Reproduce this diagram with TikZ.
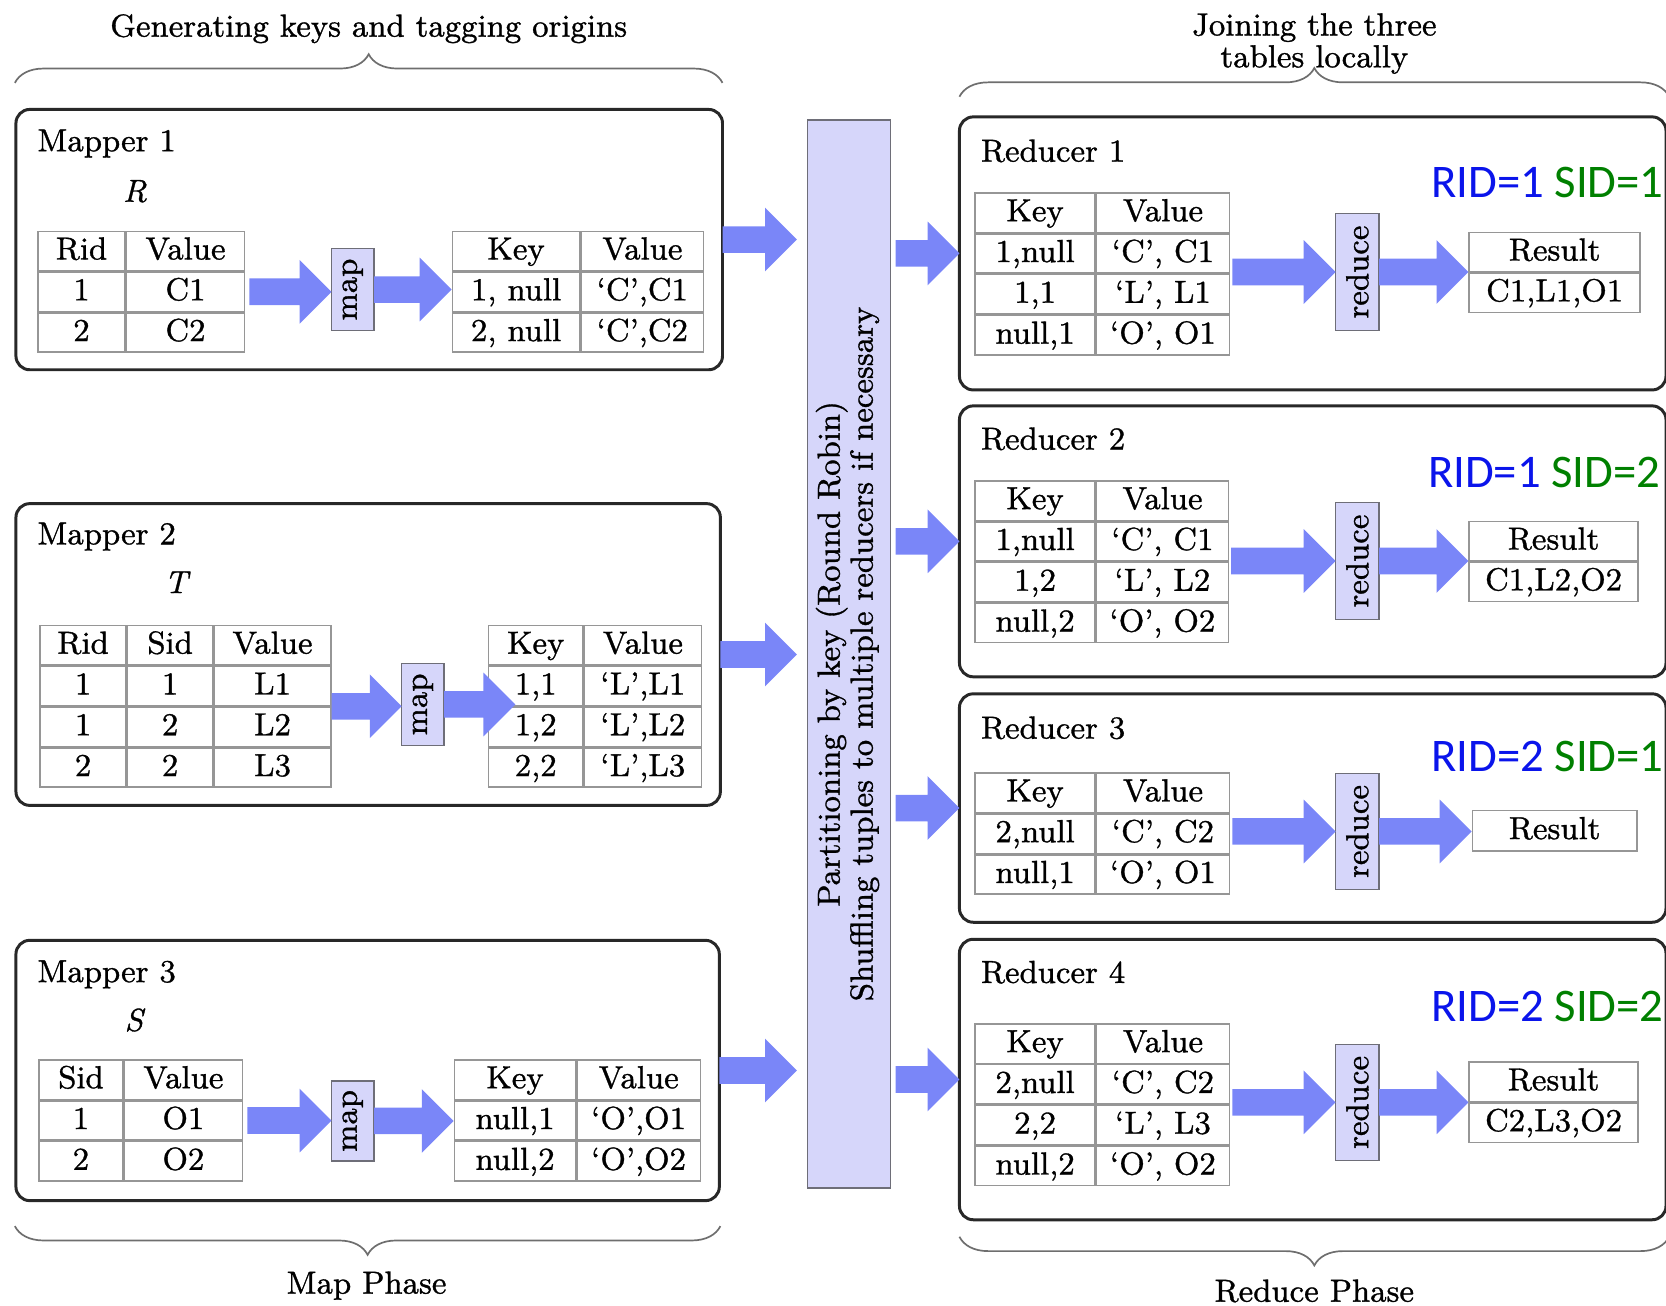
\documentclass[tikz,border=0pt]{standalone}
\usepackage{fontspec}
\setmainfont{lmroman9-regular.otf}[ItalicFont=lmroman9-italic.otf, FakeBold=1.0, Ligatures=TeX]
\newfontfamily\labelsans{Carlito}
\usetikzlibrary{matrix,calc,decorations.pathreplacing}

\definecolor{arrowfill}{RGB}{122,134,248}
\definecolor{opfill}{RGB}{214,214,250}
\definecolor{opline}{RGB}{110,110,120}
\definecolor{cellline}{RGB}{150,150,150}
\definecolor{stageline}{RGB}{40,40,40}
\definecolor{ridblue}{RGB}{10,20,235}
\definecolor{sidgreen}{RGB}{0,128,0}
\definecolor{braceline}{RGB}{110,110,110}

% fat horizontal arrow; its height is taken from the first point
\newcommand\fatarrow[2]{%
  \fill[arrowfill] let \p1=(#1), \p2=(#2) in
    (\x1,\y1+12.5pt) -- (\x2-30pt,\y1+12.5pt) -- (\x2-30pt,\y1+30pt) --
    (\x2,\y1) -- (\x2-30pt,\y1-30pt) -- (\x2-30pt,\y1-12.5pt) --
    (\x1,\y1-12.5pt) -- cycle;}

\tikzset{
  tbl/.style={matrix of nodes, anchor=north west, inner sep=0pt, outer sep=0pt,
    row sep=0pt, column sep=0pt,
    nodes={draw=cellline, line width=1.4pt, fill=white, minimum height=37pt,
      inner sep=0pt, outer sep=0pt, text height=23pt, text depth=7pt, anchor=center}},
  tblone/.style={tbl, column 1/.style={nodes={minimum width=#1}}},
  tbltwo/.style 2 args={tbl, column 1/.style={nodes={minimum width=#1}},
    column 2/.style={nodes={minimum width=#2}}},
  tblthree/.style n args={3}{tbl, column 1/.style={nodes={minimum width=#1}},
    column 2/.style={nodes={minimum width=#2}}, column 3/.style={nodes={minimum width=#3}}},
  stagebox/.style={draw=stageline, line width=2.8pt, rounded corners=13pt,
    inner sep=0pt, outer sep=0pt},
  opbox/.style={draw=opline, fill=opfill, line width=1.4pt, inner sep=0pt, outer sep=0pt},
  title/.style={anchor=west, inner sep=0pt},
  bracepath/.style={draw=braceline, line width=1.6pt, decorate,
    decoration={brace, amplitude=27pt}},
  rid/.style={anchor=east, inner sep=0pt, font=\labelsans\fontsize{44}{48}\selectfont},
}

\begin{document}
\begin{tikzpicture}[x=1pt, y=-1pt, font=\fontsize{30}{34}\selectfont]
\useasboundingbox (0,0) rectangle (1568,1229);

% ---------------- phase captions and braces ----------------
\node (capmap) at (347,27) {Generating keys and tagging origins};
\node[align=center, font=\fontsize{30}{30}\selectfont] (capjoin) at (1237,41) {Joining the three\\tables locally};
\draw[bracepath] (14,78) -- (680,78);
\draw[bracepath] (903,91) -- (1571,91);
\draw[bracepath] (678,1154) -- (14,1154);
\draw[bracepath] (1571,1164) -- (903,1164);
\node (mapphase) at (345,1210) {Map Phase};
\node (redphase) at (1237,1215) {Reduce Phase};

% ---------------- mappers ----------------
\node[stagebox, minimum width=665pt, minimum height=245pt] (m1) at (347.5,225.5) {};
\node[stagebox, minimum width=663pt, minimum height=284pt] (m2) at (346.5,616) {};
\node[stagebox, minimum width=662pt, minimum height=245pt] (m3) at (346,1007.5) {};

\node[title] (m1name) at (35,135) {Mapper 1};
\node[title] (m2name) at (35,505) {Mapper 2};
\node[title] (m3name) at (35,917) {Mapper 3};
\node (m1rel) at (127,180) {\textit{R}};
\node (m2rel) at (167,548) {\textit{T}};
\node (m3rel) at (127,960) {\textit{S}};

% Mapper 1
\matrix (t1) [tbltwo={82pt}{111pt}] at (35,217) {
  Rid & Value \\ 1 & C1 \\ 2 & C2 \\};
\node[opbox, minimum width=40pt, minimum height=77pt] (map1) at (332,272.5) {\rotatebox{90}{map}};
\matrix (k1) [tbltwo={120pt}{115pt}] at (425,217) {
  Key & Value \\ 1, null & `C',C1 \\ 2, null & `C',C2 \\};

% Mapper 2
\matrix (t2) [tblthree={81pt}{80pt}{110pt}] at (37,588) {
  Rid & Sid & Value \\ 1 & 1 & L1 \\ 1 & 2 & L2 \\ 2 & 2 & L3 \\};
\node[opbox, minimum width=40pt, minimum height=77pt] (map2) at (398,663) {\rotatebox{90}{map}};
\matrix (k2) [tbltwo={89pt}{110pt}] at (459,588) {
  Key & Value \\ 1,1 & `L',L1 \\ 1,2 & `L',L2 \\ 2,2 & `L',L3 \\};

% Mapper 3
\matrix (t3) [tbltwo={79pt}{111pt}] at (36,997) {
  Sid & Value \\ 1 & O1 \\ 2 & O2 \\};
\node[opbox, minimum width=40pt, minimum height=75pt] (map3) at (332,1055) {\rotatebox{90}{map}};
\matrix (k3) [tbltwo={114pt}{116pt}] at (427,997) {
  Key & Value \\ null,1 & `O',O1 \\ null,2 & `O',O2 \\};

\fatarrow{[xshift=4pt]t1.east}{map1.west}
\fatarrow{map1.east}{k1.west}
\fatarrow{t2.east}{map2.west}
\fatarrow{map2.east}{[xshift=26pt]k2.west}
\fatarrow{[xshift=4pt]t3.east}{map3.west}
\fatarrow{map3.east}{k3.west}

% ---------------- shuffle stage ----------------
\node[opbox, minimum width=78pt, minimum height=1005pt] (part) at (799,615.5)
  {\rotatebox{90}{\begin{tabular}{@{}c@{}}Partitioning by key (Round Robin)\\[-3pt]
   Shuffling tuples to multiple reducers if necessary\end{tabular}}};

\fatarrow{m1.east}{[xshift=-10pt]part.west}
\fatarrow{m2.east}{[xshift=-10pt]part.west}
\fatarrow{m3.east}{[xshift=-10pt]part.west}

% ---------------- reducers ----------------
\node[stagebox, minimum width=665pt, minimum height=257pt] (R1) at (1235.5,238.5) {};
\node[stagebox, minimum width=665pt, minimum height=255pt] (R2) at (1235.5,509.5) {};
\node[stagebox, minimum width=665pt, minimum height=215pt] (R3) at (1235.5,760.5) {};
\node[stagebox, minimum width=665pt, minimum height=264pt] (R4) at (1235.5,1016) {};

\node[title] (R1name) at (923,142) {Reducer 1};
\node[title] (R2name) at (923,413) {Reducer 2};
\node[title] (R3name) at (923,685) {Reducer 3};
\node[title] (R4name) at (923,915) {Reducer 4};

\node[rid] (R1ids) at (1566,172) {\textcolor{ridblue}{RID=1} \textcolor{sidgreen}{SID=1}};
\node[rid] (R2ids) at (1563,445) {\textcolor{ridblue}{RID=1} \textcolor{sidgreen}{SID=2}};
\node[rid] (R3ids) at (1566,712) {\textcolor{ridblue}{RID=2} \textcolor{sidgreen}{SID=1}};
\node[rid] (R4ids) at (1566,947) {\textcolor{ridblue}{RID=2} \textcolor{sidgreen}{SID=2}};

\matrix (r1) [tbltwo={113pt}{125pt}] at (917,181) {
  Key & Value \\ 1,null & `C', C1 \\ 1,1 & `L', L1 \\ null,1 & `O', O1 \\};
\matrix (r2) [tbltwo={113pt}{124pt}] at (917,452) {
  Key & Value \\ 1,null & `C', C1 \\ 1,2 & `L', L2 \\ null,2 & `O', O2 \\};
\matrix (r3) [tbltwo={113pt}{125pt}] at (917,727) {
  Key & Value \\ 2,null & `C', C2 \\ null,1 & `O', O1 \\};
\matrix (r4) [tbltwo={113pt}{125pt}] at (917,963) {
  Key & Value \\ 2,null & `C', C2 \\ 2,2 & `L', L3 \\ null,2 & `O', O2 \\};

\node[opbox, minimum width=41pt, minimum height=110pt] (red1) at (1277.5,256) {\rotatebox{90}{reduce}};
\node[opbox, minimum width=41pt, minimum height=110pt] (red2) at (1277.5,528) {\rotatebox{90}{reduce}};
\node[opbox, minimum width=41pt, minimum height=109pt] (red3) at (1277.5,782.5) {\rotatebox{90}{reduce}};
\node[opbox, minimum width=41pt, minimum height=109pt] (red4) at (1277.5,1037.5) {\rotatebox{90}{reduce}};

\matrix (res1) [tblone=161pt] at (1382,218) {Result \\ C1,L1,O1 \\};
\matrix (res2) [tblone=159pt] at (1382,490) {Result \\ C1,L2,O2 \\};
\matrix (res3) [tblone=155pt, nodes={minimum height=38pt}] at (1385,762) {Result \\};
\matrix (res4) [tblone=159pt] at (1382,999) {Result \\ C2,L3,O2 \\};

\fatarrow{$(part.east |- R1.west)+(5,0)$}{R1.west}
\fatarrow{$(part.east |- R2.west)+(5,0)$}{R2.west}
\fatarrow{$(part.east |- R3.west)+(5,0)$}{R3.west}
\fatarrow{$(part.east |- R4.west)+(5,0)$}{R4.west}

\fatarrow{[xshift=2pt]r1.east |- red1.west}{red1.west}
\fatarrow{red1.east}{res1.west}
\fatarrow{[xshift=2pt]r2.east |- red2.west}{red2.west}
\fatarrow{red2.east}{res2.west}
\fatarrow{[xshift=2pt]r3.east |- red3.west}{red3.west}
\fatarrow{red3.east}{res3.west}
\fatarrow{[xshift=2pt]r4.east |- red4.west}{red4.west}
\fatarrow{red4.east}{res4.west}
\end{tikzpicture}
\end{document}
